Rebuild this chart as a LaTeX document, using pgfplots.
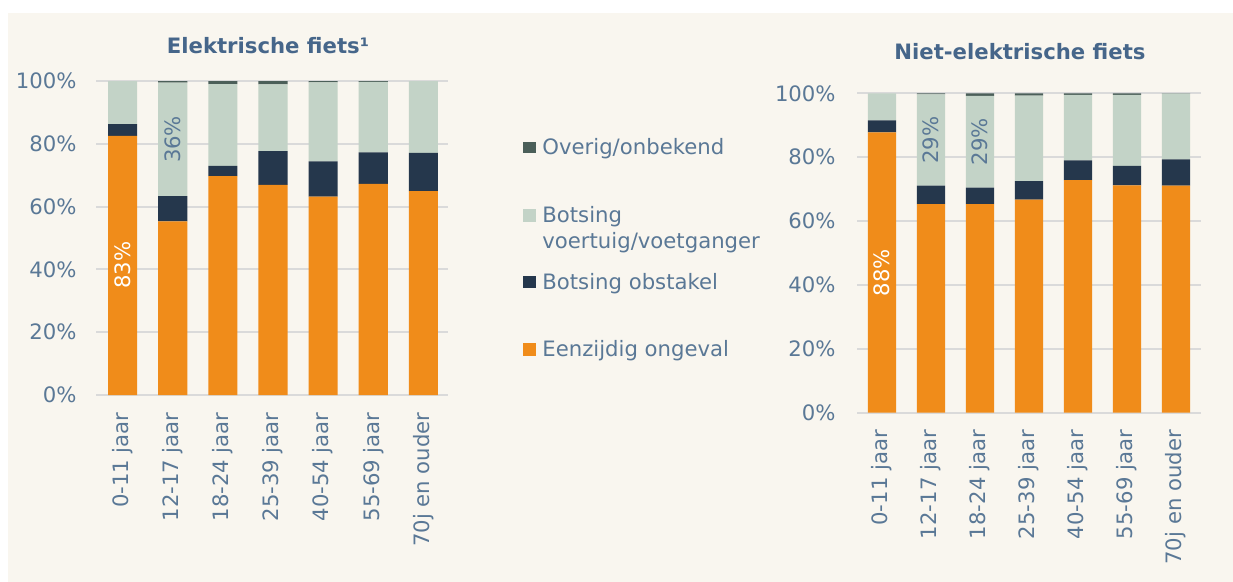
\documentclass[border=0pt]{standalone}
\usepackage{pgfplots}
\pgfplotsset{compat=1.18}
\usepackage{fontspec}
\setmainfont{DejaVu Sans}

\definecolor{bgc}{HTML}{F9F6EF}
\definecolor{txt}{HTML}{5A7896}
\definecolor{ttl}{HTML}{46668A}
\definecolor{orng}{HTML}{F08C1A}
\definecolor{navy}{HTML}{25374C}
\definecolor{sage}{HTML}{C3D3C7}
\definecolor{ovr}{HTML}{4B5F59}
\definecolor{grd}{HTML}{DADADA}

\newcommand{\fs}{\fontsize{10.6bp}{13bp}\selectfont}

\pgfplotsset{
  fietsbars/.style={
    scale only axis,
    ybar stacked,
    bar width=0.58,
    ymin=0, ymax=100,
    ytick={0,20,...,100},
    yticklabels={0\%,20\%,40\%,60\%,80\%,100\%},
    xtick={0,...,6},
    xticklabels={0-11 jaar,12-17 jaar,18-24 jaar,25-39 jaar,40-54 jaar,55-69 jaar,70j en ouder},
    axis line style={draw=none},
    major tick length=0pt,
    ymajorgrids,
    grid style={grd, line width=1bp},
    tick label style={font=\fs, text=txt, inner sep=0pt},
    xticklabel style={rotate=90, anchor=east},
    xticklabel shift=8.5bp,
  },
}

\begin{document}
\begin{tikzpicture}
\fill[white] (0,0) rectangle (616.5bp,-291bp);
\fill[bgc] (4bp,-6.5bp) rectangle (616.5bp,-291bp);

% links: elektrische fiets
\begin{axis}[fietsbars,
  at={(48bp,-197.5bp)}, anchor=south west,
  width=176bp, height=157bp,
  xmin=-0.53, xmax=6.49,
  yticklabel shift=9.5bp,
]
\addplot[draw=none, fill=orng] coordinates {(0,82.5)(1,55.3)(2,69.7)(3,66.9)(4,63.2)(5,67.2)(6,64.9)};
\addplot[draw=none, fill=navy] coordinates {(0,3.8)(1,8.0)(2,3.3)(3,10.8)(4,11.2)(5,10.1)(6,12.2)};
\addplot[draw=none, fill=sage] coordinates {(0,13.7)(1,36.2)(2,26.0)(3,21.2)(4,25.2)(5,22.4)(6,22.9)};
\addplot[draw=none, fill=ovr] coordinates {(0,0)(1,0.5)(2,1.0)(3,1.1)(4,0.4)(5,0.3)(6,0)};
\coordinate (lA) at (axis cs:0,41.3);
\coordinate (lB) at (axis cs:1,81.4);
\end{axis}

% rechts: niet-elektrische fiets
\begin{axis}[fietsbars,
  at={(428.5bp,-206.35bp)}, anchor=south west,
  width=172bp, height=159.7bp,
  xmin=-0.51, xmax=6.51,
  yticklabel shift=10.5bp,
]
\addplot[draw=none, fill=orng] coordinates {(0,87.8)(1,65.3)(2,65.3)(3,66.7)(4,72.8)(5,71.2)(6,71.1)};
\addplot[draw=none, fill=navy] coordinates {(0,3.7)(1,5.8)(2,5.2)(3,5.8)(4,6.2)(5,6.1)(6,8.2)};
\addplot[draw=none, fill=sage] coordinates {(0,8.5)(1,28.6)(2,28.7)(3,26.8)(4,20.5)(5,22.2)(6,20.6)};
\addplot[draw=none, fill=ovr] coordinates {(0,0)(1,0.3)(2,0.8)(3,0.7)(4,0.5)(5,0.5)(6,0.1)};
\coordinate (rA) at (axis cs:0,43.9);
\coordinate (rB) at (axis cs:1,85.4);
\coordinate (rC) at (axis cs:2,84.9);
\end{axis}

% waardelabels
\begin{scope}[every node/.style={rotate=90, font=\fs}]
\node[text=white] at (lA) {83\%};
\node[text=txt]   at (lB) {36\%};
\node[text=white] at (rA) {88\%};
\node[text=txt]   at (rB) {29\%};
\node[text=txt]   at (rC) {29\%};
\end{scope}

% titels
\node[font=\fs\bfseries, text=ttl] at (134bp,-23bp) {Elektrische fiets¹};
\node[font=\fs\bfseries, text=ttl] at (510bp,-26bp) {Niet-elektrische fiets};

% legenda
\begin{scope}[font=\fs, text=txt]
\fill[ovr]  (261.7bp,-76.7bp) rectangle (268bp,-70.8bp);
\node[anchor=base west, inner sep=0pt] at (271bp,-77.2bp) {Overig/onbekend};
\fill[sage] (261.7bp,-110.8bp) rectangle (268bp,-104.5bp);
\node[anchor=base west, inner sep=0pt, align=left] at (271bp,-124.2bp) {Botsing\\voertuig/voetganger};
\fill[navy] (261.7bp,-144.2bp) rectangle (268bp,-138bp);
\node[anchor=base west, inner sep=0pt] at (271bp,-144.7bp) {Botsing obstakel};
\fill[orng] (261.7bp,-178bp) rectangle (268bp,-171.7bp);
\node[anchor=base west, inner sep=0pt] at (271bp,-178.4bp) {Eenzijdig ongeval};
\end{scope}
\end{tikzpicture}
\end{document}
